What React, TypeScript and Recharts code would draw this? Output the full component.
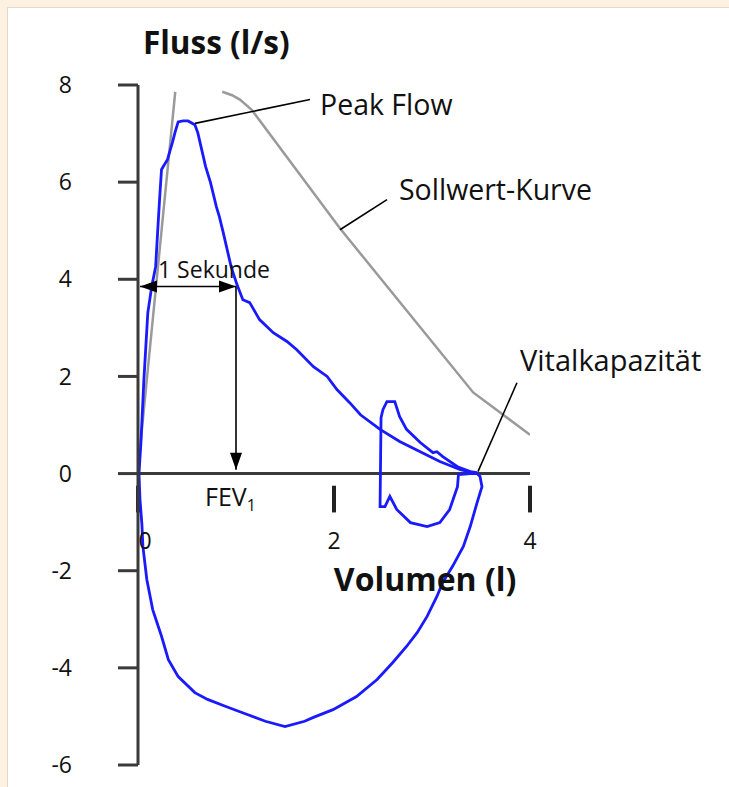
import React from 'react';
import { LineChart, Line, XAxis, YAxis, ReferenceLine, ReferenceDot } from 'recharts';

// Axis ticks
const volumeTicks = [0, 2, 4];
const flowTicks = [-6, -4, -2, 0, 2, 4, 6, 8];

// Expiration (volume l, flow l/s)
const expVolume = [0.01, 0.03, 0.06, 0.10, 0.14, 0.18, 0.20, 0.22, 0.24, 0.30, 0.35, 0.38, 0.41, 0.46, 0.51, 0.58, 0.61, 0.65, 0.69, 0.74, 0.80, 0.83, 0.87, 0.91, 0.95, 1.01, 1.07, 1.14, 1.24, 1.38, 1.52, 1.62, 1.79, 1.93, 2.03, 2.16, 2.27, 2.47, 2.67, 2.88, 3.08, 3.29, 3.46];
const expFlow = [0, 0.64, 1.93, 3.31, 3.85, 4.26, 4.96, 5.64, 6.26, 6.46, 6.81, 7.04, 7.24, 7.26, 7.26, 7.18, 7.02, 6.67, 6.32, 5.99, 5.49, 5.29, 4.96, 4.61, 4.26, 3.89, 3.58, 3.52, 3.17, 2.90, 2.72, 2.55, 2.20, 2.00, 1.73, 1.46, 1.21, 0.91, 0.66, 0.45, 0.25, 0.08, 0];

// Small second loop near the end
const loopVolume = [3.46, 3.39, 3.26, 3.11, 3.05, 3.01, 2.88, 2.74, 2.67, 2.62, 2.54, 2.50, 2.48, 2.47, 2.52, 2.57, 2.64, 2.78, 2.95, 3.08, 3.18, 3.26, 3.27, 3.39, 3.46];
const loopFlow = [0.02, 0.04, 0.14, 0.35, 0.45, 0.43, 0.64, 0.91, 1.17, 1.48, 1.48, 1.32, 1.15, -0.68, -0.68, -0.47, -0.74, -1.01, -1.09, -1.01, -0.74, -0.27, -0.02, 0, 0];

// Inspiration
const inspVolume = [3.46, 3.49, 3.51, 3.46, 3.39, 3.32, 3.21, 3.11, 3.05, 2.95, 2.85, 2.74, 2.60, 2.44, 2.23, 1.99, 1.79, 1.70, 1.50, 1.30, 1.06, 0.89, 0.71, 0.58, 0.41, 0.31, 0.24, 0.15, 0.09, 0.05, 0.04, 0.02, 0.01];
const inspFlow = [0, -0.06, -0.27, -0.60, -1.09, -1.50, -1.91, -2.24, -2.53, -2.94, -3.27, -3.56, -3.89, -4.24, -4.59, -4.86, -5.02, -5.10, -5.21, -5.10, -4.92, -4.79, -4.65, -4.51, -4.18, -3.83, -3.35, -2.80, -2.18, -1.50, -1.05, -0.53, 0];

// Sollwert-Kurve (predicted), leaves the plot at the top
const predRiseVolume = [0.01, 0.38];
const predRiseFlow = [0.3, 7.86];
const predFallVolume = [0.86, 0.96, 1.04, 1.16, 2.06, 3.42, 4.0];
const predFallFlow = [7.86, 7.79, 7.70, 7.49, 5.05, 1.67, 0.80];

// FEV1 marker
const fev1Volume = 1.0;
const fev1Flow = 3.85;

const toPoints = (xs: number[], ys: number[]) => xs.map((x, i) => ({ x, y: ys[i] }));

const expData = toPoints(expVolume, expFlow);
const loopData = toPoints(loopVolume, loopFlow);
const inspData = toPoints(inspVolume, inspFlow);
const predRise = toPoints(predRiseVolume, predRiseFlow);
const predFall = toPoints(predFallVolume, predFallFlow);

const FONT = '"Open Sans", "DejaVu Sans", sans-serif';
const BLUE = '#1a1aff';
const AXIS = '#3a3a3a';

const head = (x: number, y: number, a: number) => {
  const L = 17;
  const W = 6;
  const bx = x - L * Math.cos(a);
  const by = y - L * Math.sin(a);
  return `${x},${y} ${bx + W * Math.sin(a)},${by - W * Math.cos(a)} ${bx - W * Math.sin(a)},${by + W * Math.cos(a)}`;
};

const arrowShape = (both: boolean) => (props: any) => {
  const { x1, y1, x2, y2 } = props;
  const a = Math.atan2(y2 - y1, x2 - x1);
  return (
    <g>
      <line x1={x1} y1={y1} x2={x2} y2={y2} stroke="#000" strokeWidth={1.6} />
      {both && <polygon points={head(x1, y1, a + Math.PI)} fill="#000" />}
      <polygon points={head(x2, y2, a)} fill="#000" />
    </g>
  );
};

const textShape = (value: string, size: number, anchor: 'start' | 'middle' = 'start', bold = false, dx = 0) =>
  (props: any) => (
    <text
      x={props.cx + dx}
      y={props.cy}
      textAnchor={anchor}
      dominantBaseline="central"
      fontSize={size}
      fontWeight={bold ? 700 : 400}
      fill="#111"
      fontFamily={FONT}
    >
      {value}
    </text>
  );

const fevShape = (props: any) => (
  <text x={props.cx} y={props.cy} dominantBaseline="central" fontSize={25} fill="#111" fontFamily={FONT}>
    FEV<tspan dy={9} fontSize={16} fill="#111">1</tspan>
  </text>
);

export default function App() {
  return (
    <div style={{ position: 'absolute', left: 0, top: 0, width: 729, height: 787, background: '#fdf2e2', fontFamily: FONT }}>
      <div
        style={{
          position: 'absolute', left: 7, top: 7, right: 0, bottom: 0, background: '#fff',
          borderLeft: '1px solid #e4d9c8', borderTop: '1px solid #e4d9c8',
        }}
      />
      <div style={{ position: 'absolute', left: 0, top: 0 }}>
        <LineChart width={729} height={787} margin={{ top: 85, right: 199, bottom: 22, left: 0 }}>
          <XAxis dataKey="x" type="number" domain={[0, 4]} hide allowDataOverflow />
          <YAxis
            type="number"
            domain={[-6, 8]}
            ticks={flowTicks}
            interval={0}
            width={138}
            allowDataOverflow
            tickSize={20}
            tickMargin={46}
            axisLine={{ stroke: AXIS, strokeWidth: 3 }}
            tickLine={{ stroke: AXIS, strokeWidth: 3 }}
            tick={{ fontSize: 23, fill: '#111', fontFamily: FONT }}
          />

          {/* x axis drawn at flow = 0 */}
          <ReferenceLine segment={[{ x: 0, y: 0 }, { x: 4, y: 0 }]} stroke={AXIS} strokeWidth={3} />
          {volumeTicks.map((t) => (
            <ReferenceLine key={`t${t}`} segment={[{ x: t, y: -0.25 }, { x: t, y: -0.8 }]} stroke="#222" strokeWidth={4} />
          ))}
          {volumeTicks.map((t) => (
            <ReferenceDot key={`l${t}`} x={t} y={-1.36} r={0} shape={textShape(String(t), 23, 'middle', false, t === 0 ? 7 : 0)} />
          ))}

          <Line data={predRise} dataKey="y" type="linear" stroke="#9a9a9a" strokeWidth={2.5} dot={false} isAnimationActive={false} />
          <Line data={predFall} dataKey="y" type="linear" stroke="#9a9a9a" strokeWidth={2.5} dot={false} isAnimationActive={false} />

          <Line data={expData} dataKey="y" type="linear" stroke={BLUE} strokeWidth={2.8} dot={false} isAnimationActive={false} />
          <Line data={loopData} dataKey="y" type="linear" stroke={BLUE} strokeWidth={2.8} dot={false} isAnimationActive={false} />
          <Line data={inspData} dataKey="y" type="linear" stroke={BLUE} strokeWidth={2.8} dot={false} isAnimationActive={false} />

          {/* 1 Sekunde / FEV1 */}
          <ReferenceLine segment={[{ x: 0.02, y: fev1Flow }, { x: fev1Volume, y: fev1Flow }]} shape={arrowShape(true)} />
          <ReferenceLine segment={[{ x: fev1Volume, y: fev1Flow }, { x: fev1Volume, y: 0.08 }]} shape={arrowShape(false)} />
          <ReferenceDot x={0.204} y={4.22} r={0} shape={textShape('1 Sekunde', 23)} />
          <ReferenceDot x={0.684} y={-0.47} r={0} shape={fevShape} />

          {/* leader lines */}
          <ReferenceLine segment={[{ x: 0.582, y: 7.21 }, { x: 1.755, y: 7.7 }]} stroke="#000" strokeWidth={1.6} />
          <ReferenceLine segment={[{ x: 2.061, y: 5.02 }, { x: 2.541, y: 5.64 }]} stroke="#000" strokeWidth={1.6} />
          <ReferenceLine segment={[{ x: 3.867, y: 1.87 }, { x: 3.469, y: 0.04 }]} stroke="#000" strokeWidth={1.6} />
          <ReferenceDot x={1.857} y={7.6} r={0} shape={textShape('Peak Flow', 28.5)} />
          <ReferenceDot x={2.663} y={5.85} r={0} shape={textShape('Sollwert-Kurve', 28.5)} />
          <ReferenceDot x={3.898} y={2.35} r={0} shape={textShape('Vitalkapazität', 29)} />

          {/* axis titles */}
          <ReferenceDot x={0.05} y={8.89} r={0} ifOverflow="visible" shape={textShape('Fluss (l/s)', 31.5, 'start', true)} />
          <ReferenceDot x={2.93} y={-2.16} r={0} shape={textShape('Volumen (l)', 32, 'middle', true)} />
        </LineChart>
      </div>
    </div>
  );
}
